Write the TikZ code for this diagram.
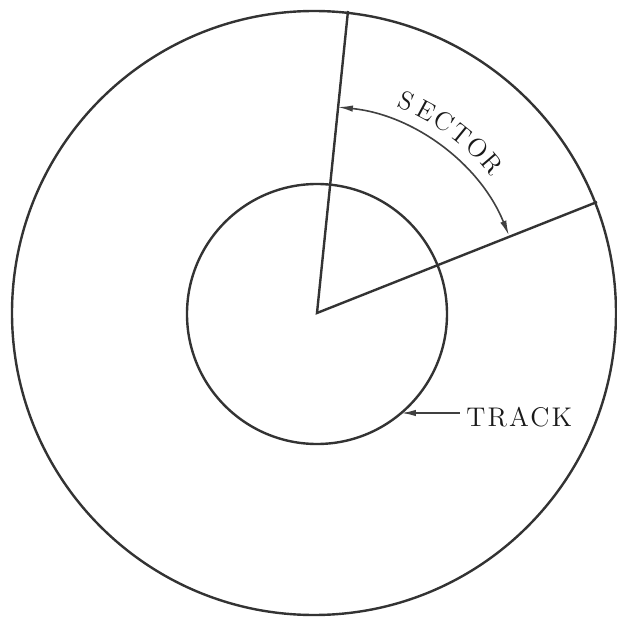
\documentclass[tikz,border=0pt]{standalone}
\usepackage{fontspec}
\setmainfont{Latin Modern Roman}
\usetikzlibrary{arrows.meta,calc}
\begin{document}
\begin{tikzpicture}[x=0.5pt,y=0.5pt,
  ink/.style={draw=black!80, line width=1.2pt},
  dimline/.style={draw=black!75, line width=0.8pt, {Latex[length=7.5pt,width=3.2pt]}-{Latex[length=7.5pt,width=3.2pt]}},
  ptr/.style={draw=black!75, line width=0.9pt, -{Latex[length=7.5pt,width=3.2pt]}},
  lbl/.style={text=black!90, inner sep=0pt, font=\fontsize{13.5}{13.5}\selectfont\addfontfeatures{LetterSpace=8}},
  letter/.style={text=black!90, inner sep=0pt, font=\fontsize{13}{13}\selectfont}]
\useasboundingbox (0,0) rectangle (617,618);
\coordinate (O) at (314,305);
\coordinate (V) at (317,305);
\coordinate (I) at (317,304);
\draw[ink] (O) circle[radius=302];
\draw[ink] (I) circle[radius=130];
\coordinate (Ttop) at (348,607);
\coordinate (Rend) at (597,416);
\draw[ink] (Ttop) -- (V) -- (Rend);
\coordinate (A1) at ($(V)+(84.2:207)$);
\draw[dimline] (A1) arc[start angle=84.2,end angle=22,radius=207];
\foreach \l [count=\i] in {S,E,C,T,O,R} {
  \pgfmathsetmacro\a{67-(\i-1)*5.3}
  \node[letter, rotate=\a-90] (sec\i) at ($(V)+(\a:230)$) {\l};
}
\node[lbl, anchor=west] (track) at (466,201) {TRACK};
\coordinate (tip) at (401,205);
\draw[ptr] ([xshift=-3pt]track.west |- tip) -- (tip);
\end{tikzpicture}
\end{document}
